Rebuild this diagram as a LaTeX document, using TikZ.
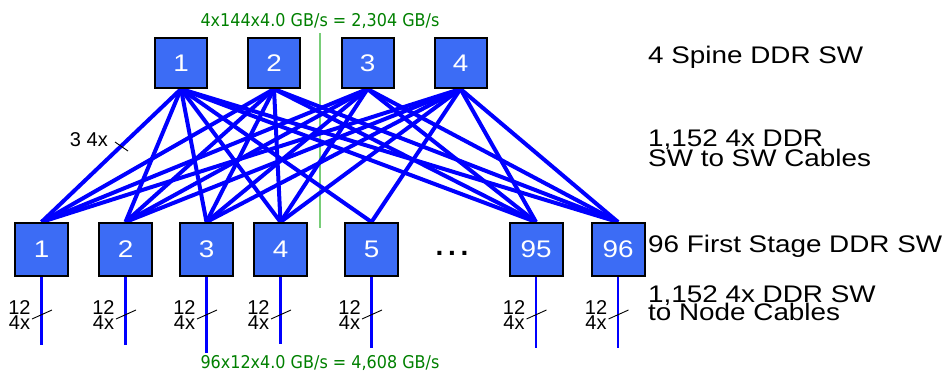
\documentclass[tikz,border=0pt]{standalone}
\usepackage{fontspec}
\setmainfont{Liberation Sans}
\newfontfamily\ratefont{DejaVu Sans}
\usetikzlibrary{backgrounds}

\definecolor{swfill}{RGB}{60,108,245}
\definecolor{linkblue}{RGB}{0,0,255}
\definecolor{rategreen}{RGB}{0,128,0}
\definecolor{splitgreen}{RGB}{120,205,120}

% slightly widened sans text
\newcommand{\widetext}[1]{\scalebox{1.16}[1]{#1}}
% slightly taller rate text
\newcommand{\talltext}[1]{\scalebox{1}[1.1]{#1}}

\tikzset{
  swbox/.style={draw=black, line width=2pt, fill=swfill, inner sep=0pt,
    text=white, font=\fontsize{24}{24}\selectfont},
  spinebox/.style={swbox, minimum width=52pt, minimum height=50pt},
  leafbox/.style={swbox, minimum width=53pt, minimum height=53pt},
  link/.style={draw=linkblue, line width=4pt},
  nodelink/.style={draw=linkblue, line width=2.6pt},
  tickmark/.style={draw=black, line width=0.9pt},
  caption/.style={anchor=base west, inner sep=0pt, font=\fontsize{24}{24}\selectfont},
  count/.style={anchor=base, inner sep=0pt, font=\fontsize{20}{20}\selectfont},
  rate/.style={anchor=base, inner sep=0pt, text=rategreen, font=\ratefont\fontsize{16}{16}\selectfont},
}

\begin{document}
\begin{tikzpicture}[x=1pt, y=-1pt]
\useasboundingbox (0,0) rectangle (948,377);

% spine switches
\node[spinebox] (s1) at (181,63)   {\widetext{1}};
\node[spinebox] (s2) at (274,63)   {\widetext{2}};
\node[spinebox] (s3) at (367.5,63) {\widetext{3}};
\node[spinebox] (s4) at (460.5,63) {\widetext{4}};

% first stage switches
\foreach \n/\x in {1/41.5, 2/125.5, 3/206.5, 4/280.5, 5/371.5, 95/536, 96/618}
  \node[leafbox] (l\n) at (\x,249.5) {\widetext{\n}};

\node[anchor=base, inner sep=0pt, font=\bfseries\fontsize{28}{28}\selectfont] (dots) at (452,255) {.\,.\,.};

% free ends of the node cables
\coordinate (e1)  at (41.5,345);
\coordinate (e2)  at (125.5,345);
\coordinate (e3)  at (206.5,353);
\coordinate (e4)  at (280.5,344);
\coordinate (e5)  at (371.5,348);
\coordinate (e95) at (536,348);
\coordinate (e96) at (618,348);

\begin{scope}[on background layer]
  % bisection line
  \coordinate (cuttop) at (320,33);
  \coordinate (cutbot) at (320,228);
  \draw[splitgreen, line width=1.5pt] (cuttop) -- (cutbot);
  % switch to switch cables
  \foreach \s in {1,2,3,4}
    \foreach \l in {1,2,3,4,95,96}
      \draw[link] (s\s.south) -- (l\l.north);
  \draw[link] (s1.south) -- (l5.north);
  \draw[link] (s4.south) -- (l5.north);
\end{scope}

% switch to node cables with bundle marks
\foreach \n/\x in {1/41.5, 2/125.5, 3/206.5, 4/280.5, 5/371.5, 95/536, 96/618} {
  \draw[nodelink] (l\n.south) -- (e\n);
  \draw[tickmark] (\x-9.5,319) -- (\x+10.5,310);
  \node[count] (c12\n) at (\x-22,314) {12};
  \node[count] (c4x\n) at (\x-22,329) {4x};
}

% bundle mark on an uplink
\draw[tickmark] (115,142) -- (128,151);
\node[count, anchor=base east] (up34x) at (108,147) {3 4x};

% bandwidth figures
\node[rate] (rtop) at (320,27)  {\talltext{4x144x4.0 GB/s = 2,304 GB/s}};
\node[rate] (rbot) at (320,368) {\talltext{96x12x4.0 GB/s = 4,608 GB/s}};

% captions
\node[caption] (cap1)  at (648,64)  {\widetext{4 Spine DDR SW}};
\node[caption] (cap2a) at (648,147) {\widetext{1,152 4x DDR}};
\node[caption] (cap2b) at (648,167) {\widetext{SW to SW Cables}};
\node[caption] (cap3)  at (648,252) {\widetext{96 First Stage DDR SW}};
\node[caption] (cap4a) at (648,302) {\widetext{1,152 4x DDR SW}};
\node[caption] (cap4b) at (648,320) {\widetext{to Node Cables}};
\end{tikzpicture}
\end{document}
